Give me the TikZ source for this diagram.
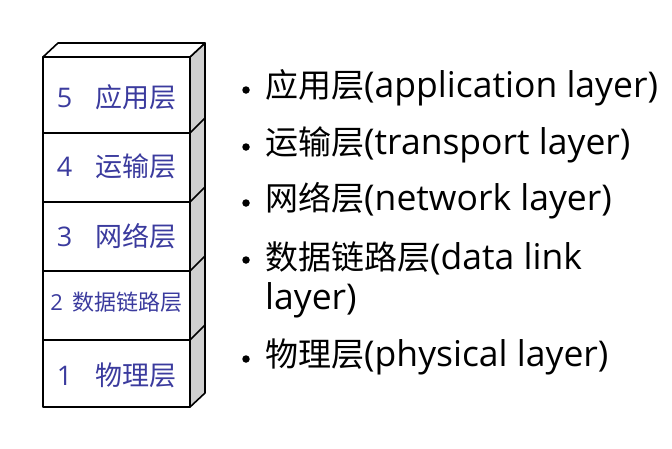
\documentclass[tikz,border=0pt]{standalone}
\usepackage{fontspec}
\setmainfont{Noto Sans CJK SC}
\newfontfamily\cjk{Noto Sans CJK SC}
\newfontfamily\latin{Open Sans}
\newcommand{\zh}[1]{{\cjk #1}}
\newcommand{\en}[1]{{\latin #1}}
\newcommand{\enb}[1]{{\latin\fontsize{35.5}{35.5}\selectfont #1}}
\definecolor{lbl}{HTML}{3B3B9E}
\definecolor{side}{HTML}{D0D0D0}
\begin{document}
\begin{tikzpicture}[x=1pt,y=-1pt,
  face/.style={draw=black,line width=1.6pt,line join=round},
  sideface/.style={draw=black,fill=side,line width=1.6pt,line join=round},
  lay/.style={font=\fontsize{27}{27}\selectfont,text=lbl,anchor=center},
  item/.style={font=\fontsize{33}{33}\selectfont,text=black,anchor=west,inner sep=0pt},
  dot/.style={circle,fill=black,inner sep=0pt,minimum size=7.5pt}]
\useasboundingbox (0,0) rectangle (672,448);
\fill[white] (0,0) rectangle (672,448);
% side face and top
\draw[sideface] (190,57) -- (205,43) -- (205,393) -- (190,407) -- cycle;
\draw[face,fill=white] (43,57) -- (58,43) -- (205,43) -- (190,57) -- cycle;
\foreach \y in {133,202,271,340} \draw[face] (190,\y) -- (205,\y-15);
% front layers
\draw[face,fill=white] (43,57) rectangle (190,133);
\draw[face,fill=white] (43,133) rectangle (190,202);
\draw[face,fill=white] (43,202) rectangle (190,271);
\draw[face,fill=white] (43,271) rectangle (190,340);
\draw[face,fill=white] (43,340) rectangle (190,407);
\node[lay] (l5) at (116.5,97) {\en{5}\hspace{0.85em}\zh{应用层}};
\node[lay] (l4) at (116.5,166) {\en{4}\hspace{0.85em}\zh{运输层}};
\node[lay] (l3) at (116.5,236) {\en{3}\hspace{0.85em}\zh{网络层}};
\node[lay,font=\fontsize{22}{22}\selectfont] (l2) at (116.5,302) {\en{2}\hspace{0.45em}\zh{数据链路层}};
\node[lay] (l1) at (116.5,375) {\en{1}\hspace{0.85em}\zh{物理层}};
% bullets
\node[dot] (b1) at (246,90) {};
\node[dot] (b2) at (246,147) {};
\node[dot] (b3) at (246,203) {};
\node[dot] (b4) at (246,260) {};
\node[dot] (b5) at (246,359) {};
\node[item] (t1) at (265,88) {\zh{应用层}\enb{(application layer)}};
\node[item] (t2) at (265,145) {\zh{运输层}\enb{(transport layer)}};
\node[item] (t3) at (265,201) {\zh{网络层}\enb{(network layer)}};
\node[item] (t4) at (265,258) {\zh{数据链路层}\enb{(data link}};
\node[item] (t4b) at (265,300) {\enb{layer)}};
\node[item] (t5) at (265,357) {\zh{物理层}\enb{(physical layer)}};
\end{tikzpicture}
\end{document}
